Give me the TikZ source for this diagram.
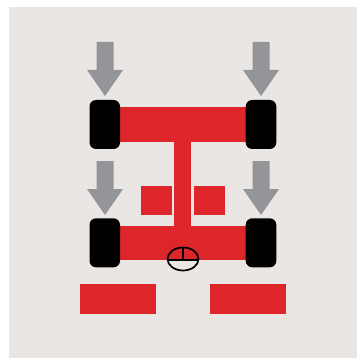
\documentclass[tikz,border=0pt]{standalone}
\definecolor{bgc}{RGB}{233,230,227}
\definecolor{redc}{RGB}{221,38,41}
\definecolor{grayc}{RGB}{148,149,152}
\tikzset{
  x=1pt,y=-1pt,
  redblock/.style={fill=redc,draw=none},
  tyre/.style={fill=black,draw=none,rounded corners=6.5pt},
  pusher/.style={fill=grayc,draw=none},
  pics/downarrow/.style={code={
    \fill[pusher] (-8.5,0) -- (8.5,0) -- (8.5,28) -- (18,28) -- (0,54) -- (-18,28) -- (-8.5,28) -- cycle;
  }}
}
\begin{document}
\begin{tikzpicture}
\useasboundingbox (0,0) rectangle (357,358);
\fill[white] (0,0) rectangle (357,358);
\fill[bgc] (8.5,7.5) rectangle (357,358);
\fill[redblock] (105,107) rectangle (261,142);
\fill[redblock] (105,226) rectangle (261,259.5);
\fill[redblock] (174.3,142) rectangle (191.3,226);
\fill[redblock] (141.3,185.7) rectangle (172.3,214.7);
\fill[redblock] (193.7,185.7) rectangle (225,214.7);
\fill[redblock] (80,284.3) rectangle (156,314);
\fill[redblock] (210.3,284.3) rectangle (286,314);
\fill[tyre] (89.5,100) rectangle (120,149);
\fill[tyre] (245.7,100) rectangle (276.3,149);
\fill[tyre] (89.5,218.3) rectangle (120,267.3);
\fill[tyre] (245.7,218.3) rectangle (276.3,267.3);
\pic at (105,42) {downarrow};
\pic at (261,42) {downarrow};
\pic at (105,161) {downarrow};
\pic at (261,161) {downarrow};
\draw[black,line width=1.7pt] (183,259) ellipse [x radius=15.5,y radius=11.5];
\draw[black,line width=2pt] (167.5,259.5) -- (198.5,259.5);
\draw[black,line width=2pt] (183,248) -- (183,261);
\end{tikzpicture}
\end{document}
